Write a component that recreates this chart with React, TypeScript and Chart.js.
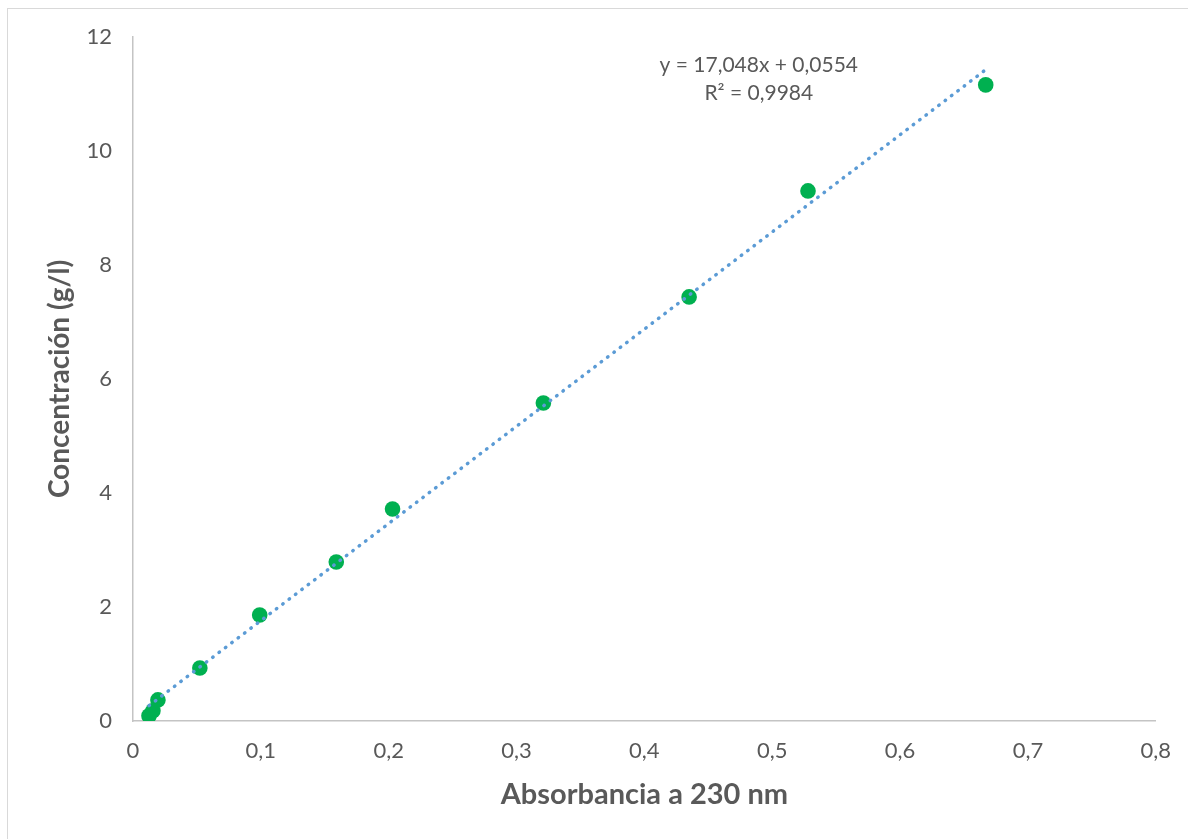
import React, { useEffect, useRef } from "react";
import { Chart, registerables } from "chart.js";

Chart.register(...registerables);

const absorbance = [0.0125, 0.0156, 0.0195, 0.0523, 0.0991, 0.159, 0.203, 0.321, 0.435, 0.528, 0.667];
const concentration = [0.09, 0.18, 0.37, 0.93, 1.86, 2.79, 3.72, 5.58, 7.44, 9.3, 11.16];
const slope = 17.048;
const intercept = 0.0554;
const equationLines = ["y = 17,048x + 0,0554", "R² = 0,9984"];
const xTitle = "Absorbancia a 230 nm";
const yTitle = "Concentración (g/l)";

const FONT = "Lato, 'Open Sans', sans-serif";
const GRAY = "#595959";

export default function App() {
  const ref = useRef<HTMLCanvasElement | null>(null);

  useEffect(() => {
    if (!ref.current) return;
    const xMin = Math.min(...absorbance);
    const xMax = Math.max(...absorbance);
    const trend = [xMin, xMax].map((x) => ({ x, y: slope * x + intercept }));

    const eqPlugin = {
      id: "eq",
      afterDatasetsDraw(chart: any) {
        const { ctx, scales } = chart;
        const cx = scales.x.getPixelForValue(0.4895);
        const cy = scales.y.getPixelForValue(11.5);
        ctx.save();
        ctx.fillStyle = GRAY;
        ctx.font = `21px ${FONT}`;
        ctx.textAlign = "center";
        ctx.textBaseline = "middle";
        equationLines.forEach((t, i) => ctx.fillText(t, cx, cy + i * 28));
        ctx.restore();
      },
    };

    const chart = new Chart(ref.current, {
      type: "scatter",
      data: {
        datasets: [
          {
            type: "line",
            data: trend,
            borderColor: "#5B9BD5",
            borderWidth: 3.5,
            borderDash: [0.5, 7.5],
            borderCapStyle: "round",
            pointRadius: 0,
            fill: false,
            order: 0,
          } as any,
          {
            data: absorbance.map((x, i) => ({ x, y: concentration[i] })),
            backgroundColor: "#00B050",
            borderColor: "#00B050",
            borderWidth: 0,
            pointRadius: 7.8,
            pointHoverRadius: 7.8,
            order: 1,
          },
        ],
      },
      options: {
        animation: false,
        responsive: false,
        maintainAspectRatio: false,
        layout: { padding: { left: 43, top: 37, right: 30, bottom: 27 } },
        plugins: { legend: { display: false }, tooltip: { enabled: false } },
        scales: {
          x: {
            type: "linear",
            min: 0,
            max: 0.8,
            ticks: {
              stepSize: 0.1,
              color: GRAY,
              font: { family: FONT, size: 22 },
              padding: 17,
              callback: (v: any) => (v === 0 ? "0" : Number(v).toFixed(1).replace(".", ",")),
            },
            grid: { display: false, drawTicks: false },
            border: { color: "#C4C4C4", width: 1.5 },
            title: {
              display: true,
              text: xTitle,
              color: GRAY,
              font: { family: FONT, size: 29, weight: "bold" },
              padding: 0,
            },
            afterFit: (s: any) => {
              s.height = 91;
            },
          },
          y: {
            type: "linear",
            min: 0,
            max: 12,
            ticks: {
              stepSize: 2,
              color: GRAY,
              font: { family: FONT, size: 22 },
              padding: 21,
            },
            grid: { display: false, drawTicks: false },
            border: { color: "#C4C4C4", width: 1.5 },
            title: {
              display: true,
              text: yTitle,
              color: GRAY,
              font: { family: FONT, size: 28, weight: "bold" },
              padding: 0,
            },
            afterFit: (s: any) => {
              s.width = 90;
            },
          },
        },
      },
      plugins: [eqPlugin],
    });
    return () => chart.destroy();
  }, []);

  return (
    <div style={{ position: "absolute", left: 0, top: 0, width: 1188, height: 839, overflow: "hidden", background: "#fff" }}>
      <div
        style={{
          position: "absolute",
          left: 7,
          top: 8,
          width: 1200,
          height: 850,
          border: "1px solid #D9D9D9",
        }}
      />
      <canvas ref={ref} width={1188} height={839} style={{ position: "absolute", left: 0, top: 0 }} />
    </div>
  );
}
